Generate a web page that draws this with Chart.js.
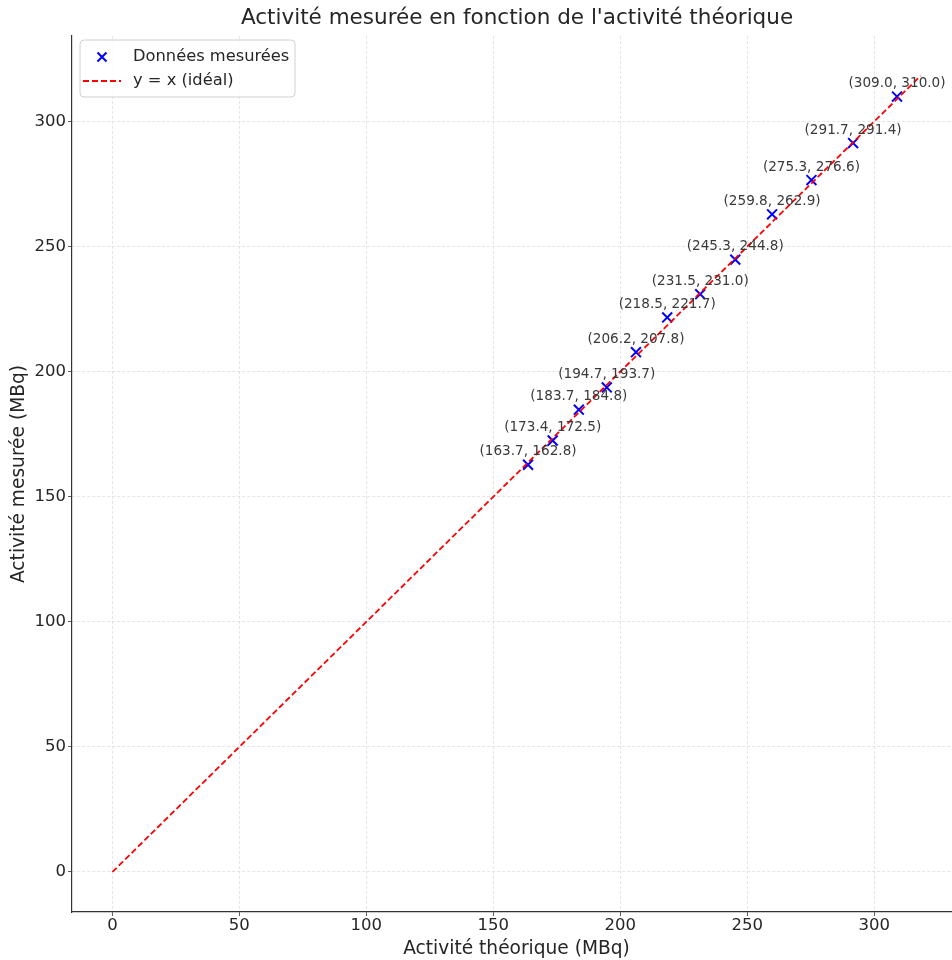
<!DOCTYPE html>
<html>
<head>
<meta charset="utf-8">
<script src="https://cdn.jsdelivr.net/npm/chart.js@4/dist/chart.umd.min.js"></script>
<style>
html,body{margin:0;padding:0;background:#fff;overflow:hidden;}
#wrap{width:952px;height:960px;position:relative;overflow:hidden;}
</style>
</head>
<body>
<div id="wrap"><canvas id="c" width="970" height="960"></canvas></div>
<script>
const theoretical = [163.7, 173.4, 183.7, 194.7, 206.2, 218.5, 231.5, 245.3, 259.8, 275.3, 291.7, 309.0];
const measured    = [162.8, 172.5, 184.8, 193.7, 207.8, 221.7, 231.0, 244.8, 262.9, 276.6, 291.4, 310.0];
const idealX = [0, 318.3];
const idealY = [0, 318.3];
const xTicks = [0, 50, 100, 150, 200, 250, 300];
const yTicks = [0, 50, 100, 150, 200, 250, 300];
const titleText = "Activité mesurée en fonction de l'activité théorique";
const xTitle = "Activité théorique (MBq)";
const yTitle = "Activité mesurée (MBq)";
const legendLabels = ["Données mesurées", "y = x (idéal)"];

const FONT = "'DejaVu Sans', sans-serif";

const scatterData = theoretical.map((x, i) => ({x: x, y: measured[i]}));
const lineData = idealX.map((x, i) => ({x: x, y: idealY[i]}));

const pointLabels = {
  id: 'pointLabels',
  afterDatasetsDraw(chart) {
    const ctx = chart.ctx;
    const meta = chart.getDatasetMeta(0);
    ctx.save();
    ctx.font = "13.6px " + FONT;
    ctx.fillStyle = '#3a3a3a';
    ctx.textAlign = 'center';
    ctx.textBaseline = 'middle';
    meta.data.forEach((pt, i) => {
      const txt = '(' + theoretical[i].toFixed(1) + ', ' + measured[i].toFixed(1) + ')';
      ctx.fillText(txt, pt.x, pt.y - 13);
    });
    ctx.restore();
  }
};

const titleLegend = {
  id: 'titleLegend',
  afterDraw(chart) {
    const ctx = chart.ctx;
    ctx.save();
    ctx.font = "21.5px " + FONT;
    ctx.fillStyle = '#262626';
    ctx.textAlign = 'center';
    ctx.textBaseline = 'middle';
    ctx.fillText(titleText, 517, 18);
    // legend box
    const bx = 80, by = 40, bw = 215, bh = 57, r = 4;
    ctx.beginPath();
    ctx.moveTo(bx + r, by);
    ctx.arcTo(bx + bw, by, bx + bw, by + bh, r);
    ctx.arcTo(bx + bw, by + bh, bx, by + bh, r);
    ctx.arcTo(bx, by + bh, bx, by, r);
    ctx.arcTo(bx, by, bx + bw, by, r);
    ctx.closePath();
    ctx.fillStyle = 'rgba(255,255,255,0.85)';
    ctx.fill();
    ctx.strokeStyle = '#d0d0d0';
    ctx.lineWidth = 1;
    ctx.stroke();
    // marker
    ctx.strokeStyle = '#0000ff';
    ctx.lineWidth = 2;
    const mx = 102, my = 57, s = 4.5;
    ctx.beginPath();
    ctx.moveTo(mx - s, my - s); ctx.lineTo(mx + s, my + s);
    ctx.moveTo(mx - s, my + s); ctx.lineTo(mx + s, my - s);
    ctx.stroke();
    // dashed line
    ctx.strokeStyle = '#ff0000';
    ctx.lineWidth = 1.8;
    ctx.setLineDash([6, 3]);
    ctx.beginPath();
    ctx.moveTo(83, 81); ctx.lineTo(121, 81);
    ctx.stroke();
    ctx.setLineDash([]);
    ctx.font = "16.3px " + FONT;
    ctx.fillStyle = '#262626';
    ctx.textAlign = 'left';
    ctx.fillText(legendLabels[0], 133, 57);
    ctx.fillText(legendLabels[1], 133, 81);
    ctx.restore();
  }
};

new Chart(document.getElementById('c'), {
  type: 'scatter',
  data: {
    datasets: [
      {
        label: legendLabels[0],
        data: scatterData,
        pointStyle: 'crossRot',
        pointRadius: 7,
        pointHoverRadius: 7,
        borderColor: '#0000ff',
        backgroundColor: '#0000ff',
        pointBorderWidth: 2,
        showLine: false,
        order: 1
      },
      {
        label: legendLabels[1],
        type: 'line',
        data: lineData,
        borderColor: '#ff0000',
        borderWidth: 1.8,
        borderDash: [6, 3],
        pointRadius: 0,
        fill: false,
        order: 0
      }
    ]
  },
  options: {
    responsive: false,
    animation: false,
    events: [],
    layout: {padding: {top: 36, right: 0, left: 0, bottom: 0}},
    plugins: {
      legend: {display: false},
      title: {display: false},
      tooltip: {enabled: false}
    },
    scales: {
      x: {
        type: 'linear',
        min: -15.9,
        max: 334.2,
        afterBuildTicks(s) { s.ticks = xTicks.map(v => ({value: v})); },
        afterFit(s) { s.height = 48; s.paddingLeft = 0; s.paddingRight = 0; },
        ticks: {
          color: '#262626',
          font: {family: FONT, size: 16.5},
          padding: 0,
          maxRotation: 0,
          autoSkip: false
        },
        grid: {
          color: '#dedede',
          lineWidth: 0.8,
          drawTicks: true,
          tickLength: 4,
          tickColor: '#333'
        },
        border: {display: true, color: '#333', width: 1.2, dash: [3, 2]},
        title: {
          display: true,
          text: xTitle,
          color: '#262626',
          font: {family: FONT, size: 18.6},
          padding: {top: 0, bottom: 0}
        }
      },
      y: {
        type: 'linear',
        min: -16,
        max: 334.2,
        afterBuildTicks(s) { s.ticks = yTicks.map(v => ({value: v})); },
        afterFit(s) { s.width = 72; s.paddingTop = 0; s.paddingBottom = 0; },
        ticks: {
          color: '#262626',
          font: {family: FONT, size: 16.5},
          padding: 2,
          autoSkip: false
        },
        grid: {
          color: '#dedede',
          lineWidth: 0.8,
          drawTicks: true,
          tickLength: 4,
          tickColor: '#333'
        },
        border: {display: true, color: '#333', width: 1.2, dash: [3, 2]},
        title: {
          display: true,
          text: yTitle,
          color: '#262626',
          font: {family: FONT, size: 18.6},
          padding: {top: 8, bottom: 0}
        }
      }
    }
  },
  plugins: [pointLabels, titleLegend]
});
</script>
</body>
</html>
